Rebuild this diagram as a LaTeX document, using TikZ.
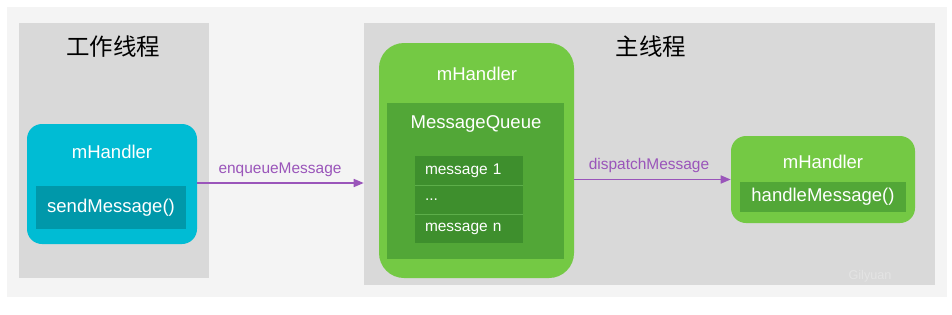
\documentclass[tikz,border=0pt]{standalone}
\usepackage{fontspec}
\setmainfont{Liberation Sans}
\newfontfamily\cjk{Noto Sans CJK SC}
\usetikzlibrary{arrows.meta}
\definecolor{bgl}{HTML}{F4F4F4}
\definecolor{panel}{HTML}{D9D9D9}
\definecolor{cyanA}{HTML}{00BCD4}
\definecolor{cyanB}{HTML}{0098AA}
\definecolor{greenA}{HTML}{74C944}
\definecolor{greenB}{HTML}{52A737}
\definecolor{greenC}{HTML}{3E8F2D}
\definecolor{greenL}{HTML}{5DAE4A}
\definecolor{arrowc}{HTML}{9A55BA}
\definecolor{wm}{HTML}{E4E4E4}
\tikzset{
  panelbox/.style={fill=panel, draw=none, inner sep=0pt},
  outerbox/.style={fill=cyanA, draw=none, rounded corners=11.25pt, inner sep=0pt},
  greenbox/.style={fill=greenA, draw=none, inner sep=0pt},
  innerbox/.style={draw=none, inner sep=0pt, text=white, font=\fontsize{13.9}{16}\selectfont},
  lbl/.style={text=white, inner sep=0pt, font=\fontsize{13.9}{16}\selectfont},
  msgrow/.style={fill=greenC, draw=none, inner sep=0pt, text=white, minimum width=81pt, minimum height=21.75pt, text width=66pt, align=left, font=\fontsize{11.6}{13}\selectfont},
  title/.style={inner sep=0pt, font=\cjk\fontsize{17.6}{20}\selectfont},
  conn/.style={draw=arrowc, line width=1.2pt, -{Triangle[length=7.5pt,width=6pt]}},
  clbl/.style={text=arrowc, inner sep=0pt, font=\fontsize{11.6}{13}\selectfont}
}
\begin{document}
\begin{tikzpicture}[x=0.75pt,y=-0.75pt]
\useasboundingbox (0,0) rectangle (952,314);
\fill[white] (0,0) rectangle (952,314);
\fill[bgl] (7,7) rectangle (947,297);
% panels
\node[panelbox, minimum width=142.5pt, minimum height=191.25pt] (workpanel) at (114,150.5) {};
\node[panelbox, minimum width=428.25pt, minimum height=196.5pt] (mainpanel) at (649.5,154) {};
\node[title] (worktitle) at (113,47) {工作线程};
\node[title] (maintitle) at (651,47) {主线程};
% worker handler
\node[outerbox, minimum width=127.5pt, minimum height=90pt] (workh) at (112,184) {};
\node[lbl] (workhl) at (112,152) {mHandler};
\node[innerbox, fill=cyanB, minimum width=112.5pt, minimum height=32.25pt] (send) at (111,207.5) {sendMessage()};
% main handler with queue
\node[greenbox, rounded corners=18.75pt, minimum width=146.25pt, minimum height=176.25pt] (mainh) at (476.5,160.5) {};
\node[lbl] (mainhl) at (477,74) {mHandler};
\node[innerbox, fill=greenB, minimum width=132.75pt, minimum height=117pt] (mq) at (475.5,181) {};
\node[lbl] (mql) at (476,124) {MessageQueue};
\node[msgrow] (m1) at (469,170.5) {message 1};
\node[msgrow] (m2) at (469,199.5) {...};
\node[msgrow] (mn) at (469,228.5) {message n};
\draw[greenL, line width=0.6pt] (m1.south west) -- (m1.south east);
\draw[greenL, line width=0.6pt] (m2.south west) -- (m2.south east);
% handleMessage handler
\node[greenbox, rounded corners=11.25pt, minimum width=138pt, minimum height=65.25pt] (handh) at (823,179.5) {};
\node[lbl] (handhl) at (823,162) {mHandler};
\node[innerbox, fill=greenB, minimum width=124.5pt, minimum height=22.5pt] (handle) at (823,197) {handleMessage()};
% connectors
\draw[conn] (workh.east |- 0,183) coordinate (e1) -- (e1 -| mainpanel.west);
\node[clbl] (enq) at (280,170) {enqueueMessage};
\draw[conn] (handh.west -| mainh.east) -- (handh.west);
\node[clbl] (disp) at (649,165) {dispatchMessage};
\node[text=wm, inner sep=0pt, font=\fontsize{9.5}{11}\selectfont] (wmark) at (870,276) {Gilyuan};
\end{tikzpicture}
\end{document}
